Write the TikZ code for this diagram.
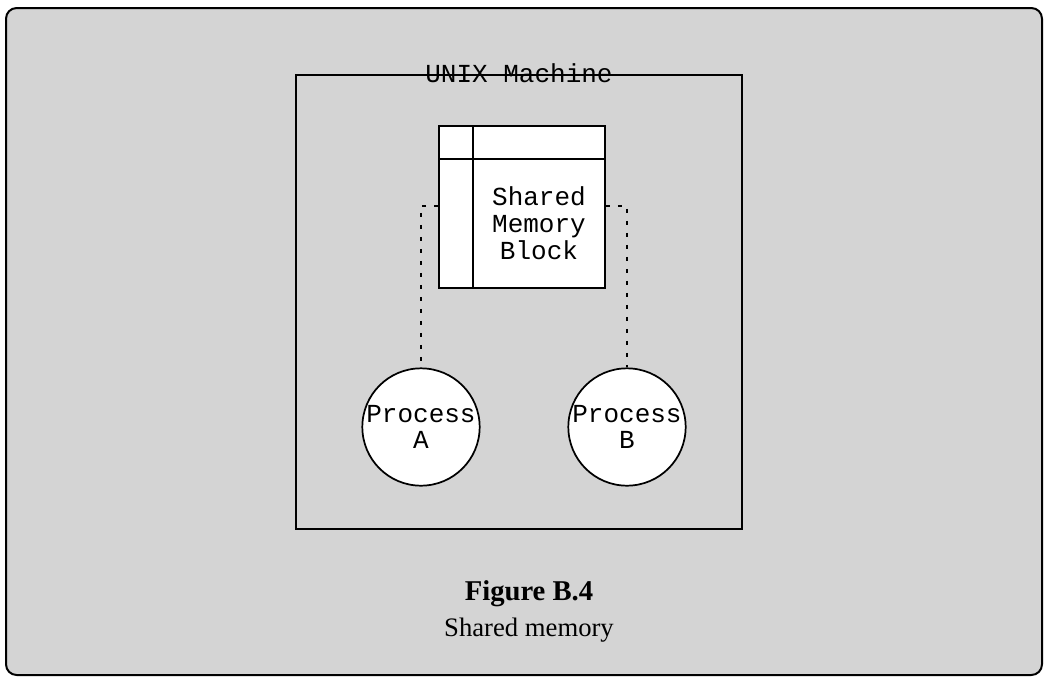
\documentclass[tikz,border=0pt]{standalone}
\usepackage{fontspec}
\setmainfont{Liberation Serif}
\newfontfamily\cour{Liberation Mono}
\begin{document}
\begin{tikzpicture}[x=0.75pt,y=-0.75pt,
  line/.style={line width=1.3pt},
  mono/.style={font=\cour\fontsize{19.5}{20.3}\selectfont},
  proc/.style={circle, draw, line width=1.3pt, fill=white, minimum size=88pt, inner sep=0pt},
  proclbl/.style={mono, align=center, inner sep=0pt},
  link/.style={line width=1.2pt, dash pattern=on 3pt off 6pt},
]
\useasboundingbox (0,0) rectangle (1047,679);
% outer frame
\node (frame) [draw, line width=1.5pt, rounded corners=8pt, fill=black!17,
  minimum width=1036*0.75pt, minimum height=667*0.75pt, inner sep=0pt] at (524,341.5) {};
% UNIX machine box
\node (unix) [draw, line width=1.3pt, minimum width=446*0.75pt, minimum height=454*0.75pt, inner sep=0pt] at (519,302) {};
\node (unixlbl) [mono, inner sep=0pt] at (519,73) {UNIX Machine};
% shared memory block
\node (mem) [draw, line width=1.3pt, fill=white, minimum width=166*0.75pt, minimum height=162*0.75pt, inner sep=0pt] at (522,207) {};
\coordinate (vtop) at (473,126);
\coordinate (vbot) at (473,288);
\coordinate (hl) at (439,159);
\coordinate (hr) at (605,159);
\draw[line] (vtop) -- (vbot);
\draw[line] (hl) -- (hr);
\node (memlbl) [mono, align=center, inner sep=0pt] at (539,223) {Shared\\Memory\\Block};
% processes
\node (pa) [proc] at (421,427) {};
\node (pb) [proc] at (627,427) {};
\node (pal) [proclbl] at (pa.center) {Process\\[-1pt]A};
\node (pbl) [proclbl] at (pb.center) {Process\\[-1pt]B};
% dotted links
\coordinate (la) at (421,206);
\coordinate (lb) at (627,206);
\draw[link] (mem.west |- la) -- (la) -- (pa.north);
\draw[link] (mem.east |- lb) -- (lb) -- (pb.north);
% caption
\node (fig) [font=\bfseries\fontsize{21.5}{24}\selectfont, inner sep=0pt] at (529,594) {Figure B.4};
\node (cap) [font=\fontsize{20}{24}\selectfont, inner sep=0pt] at (529,630) {Shared memory};
\end{tikzpicture}
\end{document}
